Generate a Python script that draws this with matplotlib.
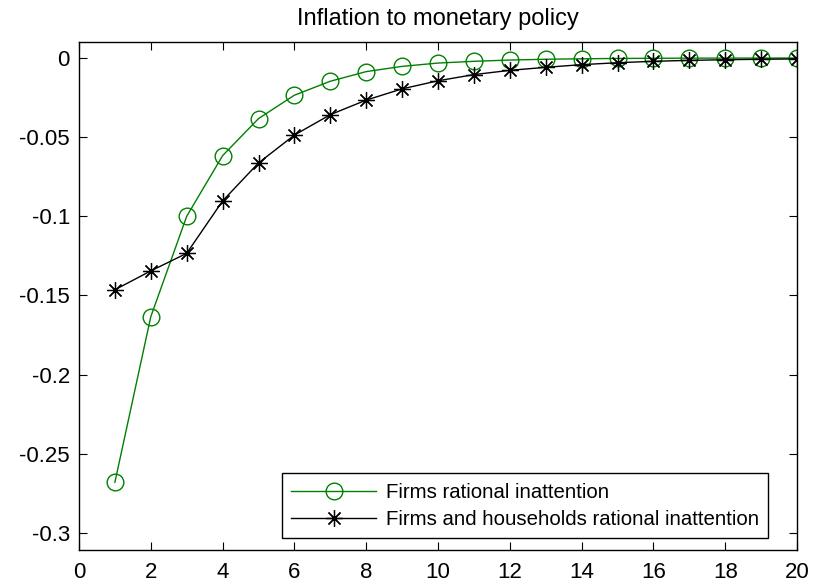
import matplotlib
matplotlib.use("Agg")
import matplotlib.pyplot as plt

periods = list(range(1, 21))
firms_ri = [-0.268, -0.1634, -0.1000, -0.0617, -0.0383, -0.0235, -0.0147, -0.0086,
            -0.0053, -0.0032, -0.0021, -0.0013, -0.0008, -0.0005, -0.0003, -0.0002,
            -0.0001, -0.00007, -0.00004, -0.00003]
firms_hh_ri = [-0.1464, -0.1345, -0.1234, -0.0903, -0.0663, -0.0487, -0.0358, -0.0266,
               -0.0195, -0.0144, -0.0105, -0.0078, -0.0059, -0.0042, -0.0030, -0.0021,
               -0.0015, -0.0011, -0.0008, -0.0006]
labels = ["Firms rational inattention", "Firms and households rational inattention"]
title = "Inflation to monetary policy"
xticks = list(range(0, 21, 2))
yticks = [0, -0.05, -0.1, -0.15, -0.2, -0.25, -0.3]
yticklabels = ["0", "-0.05", "-0.1", "-0.15", "-0.2", "-0.25", "-0.3"]

plt.rcParams['font.family'] = ['Liberation Sans', 'DejaVu Sans']
plt.rcParams['font.size'] = 16

fig = plt.figure(figsize=(8.23, 5.87), dpi=100)
ax = fig.add_axes([79/823, 1-550/587, (797-79)/823, (550-42)/587])

green = '#008000'
ax.plot(periods, firms_ri, color=green, lw=1.0, marker='o', markersize=12,
        markerfacecolor='none', markeredgecolor=green, markeredgewidth=1.0, label=labels[0])
ax.plot(periods, firms_hh_ri, color='black', lw=1.0, marker=(8, 2, 0), markersize=12,
        markeredgewidth=0.9, label=labels[1])

ax.set_xlim(0, 20)
ax.set_ylim(-0.3108, 0.0101)
ax.set_xticks(xticks)
ax.set_yticks(yticks)
ax.set_yticklabels(yticklabels)
ax.tick_params(direction='in', top=True, right=True, length=6, width=0.8, labelsize=16)
ax.tick_params(axis='x', pad=9)
ax.tick_params(axis='y', pad=6.5)
for s in ax.spines.values():
    s.set_linewidth(1.0)
ax.set_title(title, fontsize=17, pad=12)

leg = ax.legend(loc='lower right', bbox_to_anchor=(0.9596, 0.0236), borderaxespad=0,
                frameon=True, fancybox=False, edgecolor='black',
                framealpha=1, fontsize=14.7, handlelength=4.2, borderpad=0.45,
                labelspacing=0.4, handletextpad=0.45)
leg.get_frame().set_linewidth(1.0)

fig.savefig("out.png", dpi=100)
